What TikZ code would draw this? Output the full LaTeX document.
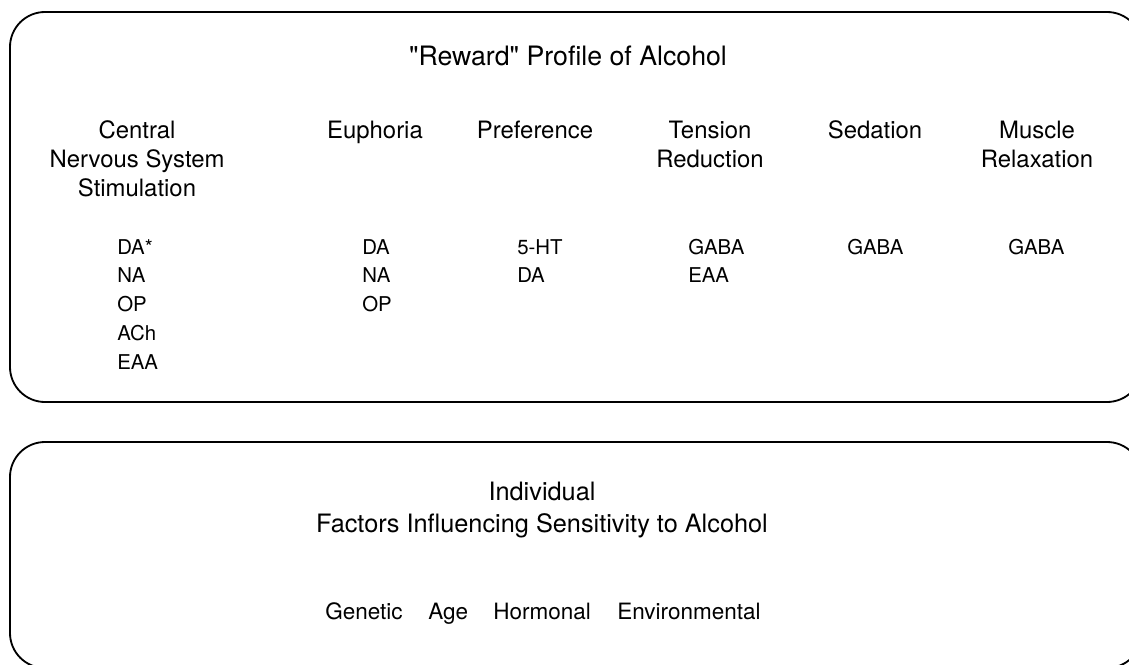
\documentclass[tikz,border=0pt]{standalone}
\usepackage{fontspec}
\setmainfont{TeX Gyre Heros}[Ligatures=TeXOff]
\usetikzlibrary{positioning}

\tikzset{
panel/.style={draw,line width=1.3pt,rounded corners=0.875cm},
head/.style={align=center,anchor=base,inner sep=0pt,font=\fontsize{17}{20.6}\selectfont},
item/.style={anchor=base west,inner sep=0pt,font=\fontsize{14.5}{17}\selectfont},
factor/.style={anchor=base west,inner sep=0pt,font=\fontsize{16}{19}\selectfont}
}

\begin{document}
\begin{tikzpicture}[x=0.025cm,y=-0.025cm]
\useasboundingbox (0,0) rectangle (1129,664);

% Panels
\draw[panel] (10,12) rectangle (1142,402);
\draw[panel] (10,442) rectangle (1142,668);

% Reward profile (multi-line heads sit on their last line)
\node[head,font=\fontsize{19}{23}\selectfont] (title) at (568,65) {"Reward" Profile of Alcohol};

\node[head] (cns) at (137,196) {Central\\Nervous System\\Stimulation};
\node[head] (euph) at (375,138) {Euphoria};
\node[head] (pref) at (535,138) {Preference};
\node[head] (tens) at (710,167) {Tension\\Reduction};
\node[head] (sed) at (875,138) {Sedation};
\node[head] (musc) at (1037,167) {Muscle\\Relaxation};

% Transmitters under each effect
\foreach \t [count=\i] in {DA*,NA,OP,ACh,EAA}
{
\node[item] (cns\i) at (117,254+28.9*\i-28.9) {\t};
}
\foreach \t [count=\i] in {DA,NA,OP}
{
\node[item] (euph\i) at (362,254+28.9*\i-28.9) {\t};
}
\foreach \t [count=\i] in {5-HT,DA}
{
\node[item] (pref\i) at (517,254+28.9*\i-28.9) {\t};
}
\foreach \t [count=\i] in {GABA,EAA}
{
\node[item] (tens\i) at (688,254+28.9*\i-28.9) {\t};
}
\node[item] (sed1) at (847,254) {GABA};
\node[item] (musc1) at (1008,254) {GABA};

% Individual factors
\node[head,font=\fontsize{18}{22.3}\selectfont] (indiv) at (542,532) {Individual\\Factors Influencing Sensitivity to Alcohol};

\node[factor] (gen) at (325,619) {Genetic};
\node[factor] (age) at (428,619) {Age};
\node[factor] (horm) at (493,619) {Hormonal};
\node[factor] (env) at (617,619) {Environmental};

\end{tikzpicture}
\end{document}
